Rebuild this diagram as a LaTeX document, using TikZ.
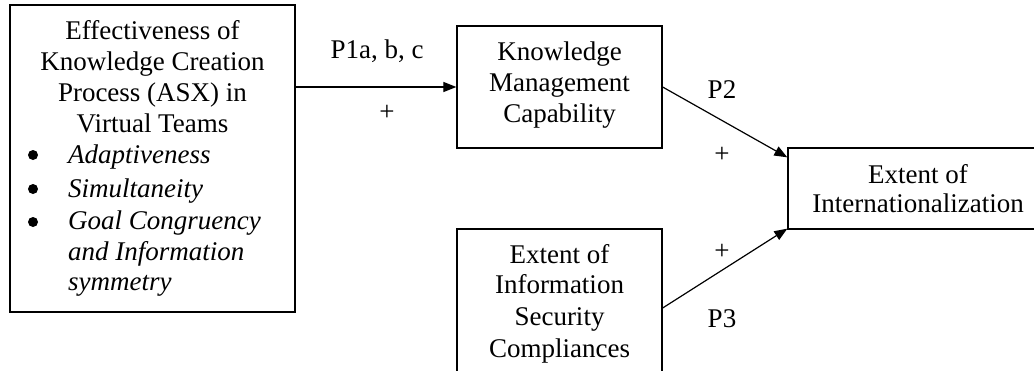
\documentclass[tikz,border=0pt]{standalone}
\usepackage{fontspec}
\setmainfont{Liberation Serif}
\usetikzlibrary{arrows.meta,calc}
\begin{document}
\begin{tikzpicture}[x=1pt,y=-1pt,
  font=\fontsize{27}{31}\selectfont,
  box/.style={draw,line width=1.3pt,inner sep=0pt},
  txt/.style={anchor=base,inner sep=0pt},
  itx/.style={anchor=base west,inner sep=0pt,font=\fontsize{27}{31}\selectfont\itshape},
  dot/.style={circle,fill,inner sep=0pt,minimum size=10pt},
  link/.style={line width=1.2pt,-{Triangle[length=13pt,width=10pt]}}]
\useasboundingbox (0,0) rectangle (1034,370);

% boxes (the last two run past the page edge)
\node[box,minimum width=285pt,minimum height=307pt] (asx) at (152.5,158.5) {};
\node[box,minimum width=205pt,minimum height=122pt] (kmc) at (559.5,87) {};
\node[box,minimum width=290pt,minimum height=81pt]  (int) at (933,188.5) {};
\node[box,minimum width=205pt,minimum height=158pt] (isc) at (559.5,308) {};

% knowledge creation process
\node[txt] (a1) at (152.5,39)  {Effectiveness of};
\node[txt] (a2) at (152.5,70)  {Knowledge Creation};
\node[txt] (a3) at (152.5,101) {Process (ASX) in};
\node[txt] (a4) at (152.5,132) {Virtual Teams};
\node[dot] (d1) at (33,155) {};
\node[dot] (d2) at (33,189) {};
\node[dot] (d3) at (33,222) {};
\node[itx] (i1) at (68,163) {Adaptiveness};
\node[itx] (i2) at (68,197) {Simultaneity};
\node[itx] (i3) at (68,229) {Goal Congruency};
\node[itx] (i4) at (68,260) {and Information};
\node[itx] (i5) at (68,290) {symmetry};

% knowledge management capability
\node[txt] (k1) at (559.5,60)  {Knowledge};
\node[txt] (k2) at (559.5,91)  {Management};
\node[txt] (k3) at (559.5,122) {Capability};

% internationalization
\node[txt] (n1) at (918,183) {Extent of};
\node[txt] (n2) at (918,212) {Internationalization};

% information security
\node[txt] (s1) at (559.5,263) {Extent of};
\node[txt] (s2) at (559.5,293) {Information};
\node[txt] (s3) at (559.5,325) {Security};
\node[txt] (s4) at (559.5,357) {Compliances};

% connectors
\coordinate (e2) at ($(int.north west)+(0,10)$);
\coordinate (e3) at ($(int.south west)+(0,-1)$);
\draw[link] (asx.east |- kmc.east) -- (kmc.west);
\draw[link] (kmc.east) -- (e2);
\draw[link] (isc.east) -- (e3);

% labels
\node[txt] (p1) at (377,58)  {P1a, b, c};
\node[inner sep=0pt] (q1) at (387,113) {+};
\node[txt] (p2) at (722,98)  {P2};
\node[inner sep=0pt] (q2) at (722,155) {+};
\node[inner sep=0pt] (q3) at (722,252) {+};
\node[txt] (p3) at (722,327) {P3};
\end{tikzpicture}
\end{document}
